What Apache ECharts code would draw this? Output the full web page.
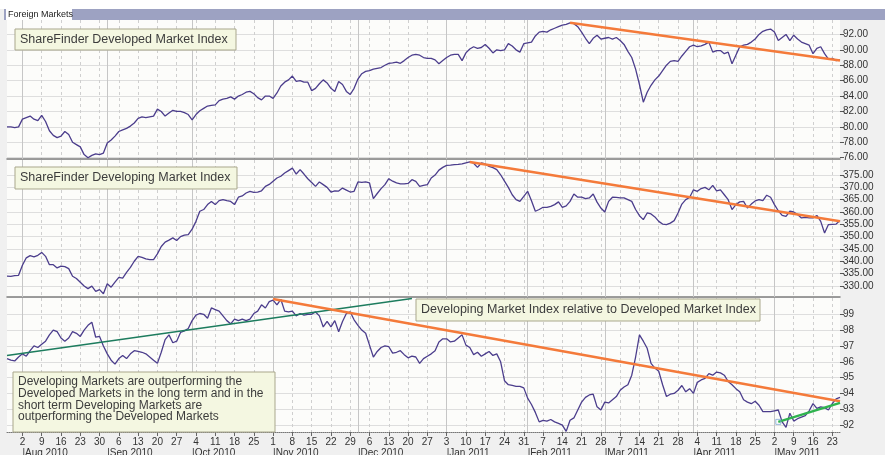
<!DOCTYPE html>
<html>
<head>
<meta charset="utf-8">
<script src="https://cdn.jsdelivr.net/npm/echarts@6.0.0/dist/echarts.min.js"></script>
<style>
  html, body { margin: 0; padding: 0; background: #f0f0f0; }
  #chart { width: 885px; height: 455px; }
</style>
</head>
<body>
<div id="chart"></div>
<script>
// trading days (weekdays) shown on the chart
var firstDay = '2010-07-27';
var lastDay = '2011-05-25';
var monthNames = ['Jan', 'Feb', 'Mar', 'Apr', 'May', 'Jun', 'Jul', 'Aug', 'Sep', 'Oct', 'Nov', 'Dec'];

// ShareFinder Developed Market Index (daily close)
var developed = [80.0,80.0,79.9,80.0,81.0,81.2,81.4,81.0,80.8,81.5,
 80.7,79.5,78.9,78.6,78.8,79.4,79.0,78.0,77.7,77.4,
 76.4,76.0,76.3,76.5,76.4,76.6,77.9,78.3,78.8,79.4,
 79.6,79.8,80.1,80.5,81.1,81.3,81.2,81.3,81.4,82.3,
 82.0,81.4,81.8,82.15,82.0,82.0,81.85,81.6,80.9,81.6,
 82.1,82.4,82.7,82.8,82.85,83.4,83.6,83.7,83.9,83.6,
 84.0,84.2,84.5,84.6,84.3,83.8,83.5,84.0,84.0,83.7,
 84.4,85.3,85.8,86.1,86.6,85.9,86.0,85.8,85.8,84.7,
 85.0,85.6,86.1,85.7,85.0,84.6,85.9,85.5,84.6,84.2,
 85.0,86.2,86.9,87.2,87.3,87.5,87.6,87.7,88.0,88.25,
 88.3,88.4,88.25,88.6,89.0,89.3,89.4,89.3,89.0,88.9,
 88.9,88.7,88.2,88.6,89.0,89.3,89.4,89.4,88.6,89.6,
 90.1,90.4,90.2,90.3,90.7,90.2,89.6,90.0,89.9,90.0,
 90.8,90.5,90.0,89.7,90.8,90.9,91.0,91.8,92.3,92.4,
 92.3,92.6,92.8,93.0,93.2,93.3,93.5,93.4,93.0,92.3,
 91.5,90.8,91.5,91.9,91.4,91.5,91.6,91.4,91.6,91.2,
 90.7,89.8,89.0,87.5,85.5,83.2,84.5,85.4,86.1,86.6,
 87.3,88.0,88.5,88.6,88.5,89.2,89.8,90.4,90.6,90.4,
 90.5,90.7,91.0,89.7,89.9,89.9,89.5,89.7,88.2,89.3,
 90.4,90.6,90.7,91.0,91.4,92.0,92.4,92.6,92.7,92.3,
 91.2,91.6,92.0,91.2,91.9,91.4,91.0,90.8,90.6,89.5,
 90.2,90.4,89.5,88.8,88.9,88.6,88.7];

// ShareFinder Developing Market Index
var developing = [334.0,333.9,334.2,334.3,338.4,341.4,342.3,341.8,342.4,343.6,
 342.0,338.6,338.6,337.3,338.0,337.8,337.0,333.9,333.0,331.5,
 330.0,328.9,329.9,327.8,328.5,326.8,330.9,329.5,331.5,333.5,
 333.2,335.5,337.5,340.0,342.0,341.6,341.0,340.7,340.7,343.0,
 346.0,347.8,348.6,349.5,348.4,350.0,350.6,350.8,353.0,356.2,
 360.3,361.0,363.0,364.3,363.0,364.6,365.0,364.6,364.3,363.0,
 366.0,366.5,367.7,368.4,368.0,368.1,368.6,370.4,371.2,372.5,
 373.8,374.5,375.8,376.8,377.8,375.4,377.2,375.4,373.5,372.0,
 370.4,372.2,371.1,370.0,368.1,368.6,368.5,369.7,368.9,368.1,
 368.4,372.2,372.0,372.2,371.8,365.4,367.5,369.5,371.1,373.5,
 372.5,371.8,371.4,371.4,371.6,373.1,372.4,370.4,370.8,371.1,
 373.8,375.0,377.0,378.1,378.9,379.0,379.2,379.3,379.5,379.9,
 380.3,379.8,378.1,379.9,379.5,378.5,378.0,377.2,375.1,372.5,
 370.0,367.0,365.0,364.3,366.3,368.4,364.6,360.3,361.0,361.9,
 361.9,362.3,363.0,364.1,361.9,362.5,364.3,367.3,366.0,366.0,
 365.4,365.7,367.3,364.0,361.6,360.0,364.3,366.0,365.9,365.7,
 365.7,365.0,364.3,361.0,358.5,356.9,359.6,359.2,358.0,356.2,
 355.1,354.9,355.5,356.5,359.6,363.2,365.0,365.9,369.0,368.4,
 369.5,370.0,369.0,370.8,368.6,369.0,367.0,365.0,361.0,363.0,
 364.1,364.3,361.6,363.2,364.5,365.0,364.6,366.8,366.0,363.0,
 360.5,358.6,358.2,360.3,360.0,359.0,357.6,357.8,357.6,357.6,
 358.6,356.2,351.5,354.9,355.0,355.1,356.5];

// Developing relative to Developed
var relative = [96.2,96.1,96.05,96.3,96.5,96.35,96.7,97.0,96.9,97.1,
 97.3,97.7,98.0,97.9,97.5,97.3,97.5,97.9,97.8,97.6,
 98.0,98.3,98.5,97.55,97.6,97.0,96.5,96.1,95.85,96.2,
 96.4,96.2,96.5,96.7,96.65,96.6,96.5,96.3,96.1,95.9,
 96.6,97.4,97.7,97.2,97.3,97.85,97.95,98.1,98.6,98.95,
 99.05,99.0,98.75,99.4,99.3,99.2,98.9,98.6,98.4,98.7,
 98.6,98.7,98.6,98.7,99.05,99.2,99.6,99.4,99.8,99.9,
 99.6,99.95,99.2,99.15,99.2,98.9,99.05,98.95,99.0,99.0,
 99.15,98.9,98.2,98.55,98.2,98.6,97.9,98.55,99.05,99.15,
 98.65,98.3,98.0,97.8,97.05,96.3,96.65,96.9,97.0,96.95,
 96.55,96.6,96.7,96.45,96.25,96.35,96.3,95.9,96.2,96.35,
 96.5,96.7,97.25,97.45,97.45,97.25,97.3,97.5,97.7,97.05,
 96.9,96.45,96.6,96.35,96.5,96.65,96.4,96.5,96.0,94.8,
 94.55,94.5,94.45,94.45,94.35,93.7,93.3,92.8,92.2,92.3,
 92.25,92.35,92.2,92.1,92.0,91.6,92.3,92.45,92.95,93.45,
 93.75,93.9,93.95,93.15,92.95,93.45,93.4,93.6,93.8,94.2,
 94.4,94.55,95.15,96.3,97.7,97.3,96.85,95.9,95.6,95.4,
 94.55,93.8,93.95,94.0,94.2,94.5,94.1,94.3,94.0,94.7,
 94.85,94.95,95.25,95.15,95.35,95.3,95.15,94.75,94.55,94.3,
 94.1,93.6,93.45,93.35,93.5,93.25,92.85,92.85,92.85,92.9,
 92.95,92.2,91.85,92.75,92.25,92.4,92.5,92.6,92.9,93.35,
 93.05,93.15,93.1,92.95,93.35,93.65,93.75];

// hand-drawn trend lines [date, value] end points
var devTrend = [['2011-02-16', 93.5], ['2011-05-25', 88.6]];
var emTrend = [['2011-01-11', 380.3], ['2011-05-25', 356.2]];
var relLongUp = [['2010-07-27', 96.4], ['2010-12-21', 100.0]];
var relDown = [['2010-11-01', 99.97], ['2011-05-25', 93.5]];
var relShortUp = [['2011-05-03', 92.2], ['2011-05-25', 93.4]];

// y tick labels
var devTicks = [76, 78, 80, 82, 84, 86, 88, 90, 92];
var emTicks = [330, 335, 340, 345, 350, 355, 360, 365, 370, 375];
var relTicks = [92, 93, 94, 95, 96, 97, 98, 99];

// build weekday categories
var days = [];
var d = new Date(firstDay + 'T00:00:00Z');
var end = new Date(lastDay + 'T00:00:00Z');
while (d <= end) {
  var wd = d.getUTCDay();
  if (wd !== 0 && wd !== 6) days.push(d.toISOString().slice(0, 10));
  d = new Date(d.getTime() + 86400000);
}
var isMonday = days.map(function (s) { return new Date(s + 'T00:00:00Z').getUTCDay() === 1; });
var isMonthStart = days.map(function (s, i) { return i > 0 && s.slice(5, 7) !== days[i - 1].slice(5, 7); });
var monthStarts = days.filter(function (s, i) { return isMonthStart[i]; });

var FONT = '"Liberation Sans", Arial, sans-serif';
var grids = [
  { left: 7, right: 45, top: 20, height: 139 },
  { left: 7, right: 45, top: 160, height: 137 },
  { left: 7, right: 45, top: 298, height: 134 }
];

function xAx(g) {
  var bottom = g === 2;
  return {
    type: 'category', gridIndex: g, data: days, boundaryGap: false,
    axisLine: { show: true, lineStyle: bottom ? { color: '#777', type: 'dotted', width: 1 } : { color: '#7c7c7c', width: 1.5 } },
    axisTick: { show: bottom, interval: function (i) { return isMonday[i]; }, length: 4, lineStyle: { color: '#666' } },
    axisLabel: {
      show: bottom, interval: function (i) { return isMonday[i]; },
      formatter: function (v) { return String(+v.slice(8)); },
      fontSize: 10, color: '#333', margin: 5, fontFamily: FONT
    },
    splitLine: { show: true, interval: function (i) { return isMonday[i]; }, lineStyle: { type: [3, 3], color: '#cfcfcf', width: 1 } }
  };
}

function yAx(g, min, max, ticks, dec) {
  return {
    type: 'value', gridIndex: g, position: 'right', min: min, max: max,
    axisLine: { show: false },
    axisTick: { show: true, length: 4, customValues: ticks, lineStyle: { color: '#555' } },
    axisLabel: {
      customValues: ticks, fontSize: 10, color: '#333', margin: 3, fontFamily: FONT,
      formatter: function (v) { return v.toFixed(dec); }
    },
    splitLine: { show: true, lineStyle: { color: '#dedede', width: 1 } }
  };
}

function mainLine(g, data) {
  return {
    type: 'line', xAxisIndex: g, yAxisIndex: g, data: data, symbol: 'none', z: 3,
    lineStyle: { color: '#4b3d8c', width: 1.3 },
    markLine: {
      silent: true, symbol: ['none', 'none'], z: 1, label: { show: false },
      lineStyle: { type: 'solid', color: '#c6c6c6', width: 1 },
      data: monthStarts.map(function (m) { return { xAxis: m }; })
    }
  };
}

function trend(g, pts, color, w) {
  return {
    type: 'line', xAxisIndex: g, yAxisIndex: g, data: pts, symbol: 'none', z: 4,
    lineStyle: { color: color, width: w }
  };
}

// note boxes, flat elements (no groups)
function box(list, x, y, w, h, lines, size, step) {
  list.push({ type: 'rect', z: 50, shape: { x: x, y: y, width: w, height: h },
    style: { fill: '#f4f7e1', stroke: '#a9a78c', lineWidth: 1 } });
  lines.forEach(function (t, i) {
    list.push({ type: 'text', z: 51, x: x + 5, y: y + 4 + i * step,
      style: { text: t, fill: '#3c3c3c', font: size + 'px ' + FONT } });
  });
}

var graphics = [
  { type: 'rect', shape: { x: 0, y: 0, width: 885, height: 9 }, style: { fill: '#ffffff' }, z: 40 },
  { type: 'rect', shape: { x: 4, y: 9, width: 881, height: 11 }, style: { fill: '#9da2c2' }, z: 40 },
  { type: 'rect', shape: { x: 6, y: 9, width: 66, height: 11 }, style: { fill: '#ffffff' }, z: 41 },
  { type: 'text', x: 8, y: 10, z: 42, style: { text: 'Foreign Markets', fill: '#222', font: '9px ' + FONT } }
];
box(graphics, 15, 29, 221, 21, ['ShareFinder Developed Market Index'], 12.5, 0);
box(graphics, 15, 167, 222, 22, ['ShareFinder Developing Market Index'], 12.5, 0);
box(graphics, 416, 299, 344, 22, ['Developing Market Index relative to Developed Market Index'], 12.5, 0);
box(graphics, 13, 372, 262, 60, [
  'Developing Markets are outperforming the',
  'Developed Markets in the long term and in the',
  'short term Developing Markets are',
  'outperforming the Developed Markets'], 12, 11.6);

var chart = echarts.init(document.getElementById('chart'), null, { renderer: 'canvas' });
chart.setOption({
  animation: false,
  backgroundColor: '#f0f0f0',
  grid: grids.map(function (g) {
    return { left: g.left, right: g.right, top: g.top, height: g.height, show: true,
      backgroundColor: '#fcfcfa', borderWidth: 0, outerBoundsMode: 'none', containLabel: false };
  }),
  xAxis: [xAx(0), xAx(1), xAx(2), {
    type: 'category', gridIndex: 2, data: days, boundaryGap: false, position: 'bottom', offset: 11,
    axisLine: { show: false }, axisTick: { show: false }, splitLine: { show: false },
    axisLabel: {
      interval: function (i) { return isMonthStart[i]; }, align: 'left',
      formatter: function (v) { return '|' + monthNames[+v.slice(5, 7) - 1] + ' ' + v.slice(0, 4); },
      fontSize: 10, color: '#333', margin: 5, fontFamily: FONT
    }
  }],
  yAxis: [
    yAx(0, 75.83, 93.87, devTicks, 2),
    yAx(1, 325.5, 381.1, emTicks, 2),
    yAx(2, 91.56, 100.03, relTicks, 0)
  ],
  series: [
    mainLine(0, developed),
    mainLine(1, developing),
    mainLine(2, relative),
    trend(0, devTrend, '#f47a3a', 2.5),
    trend(1, emTrend, '#f47a3a', 2.5),
    trend(2, relLongUp, '#1d7c5e', 1.6),
    trend(2, relDown, '#f47a3a', 2.5),
    trend(2, relShortUp, '#2fb34e', 2.5),
    {
      type: 'scatter', xAxisIndex: 2, yAxisIndex: 2, data: [relShortUp[0]], symbol: 'rect', symbolSize: 5, z: 5,
      itemStyle: { color: 'rgba(0,0,0,0)', borderColor: '#7fa9d6', borderWidth: 1 }
    }
  ],
  graphic: graphics
});
</script>
</body>
</html>
